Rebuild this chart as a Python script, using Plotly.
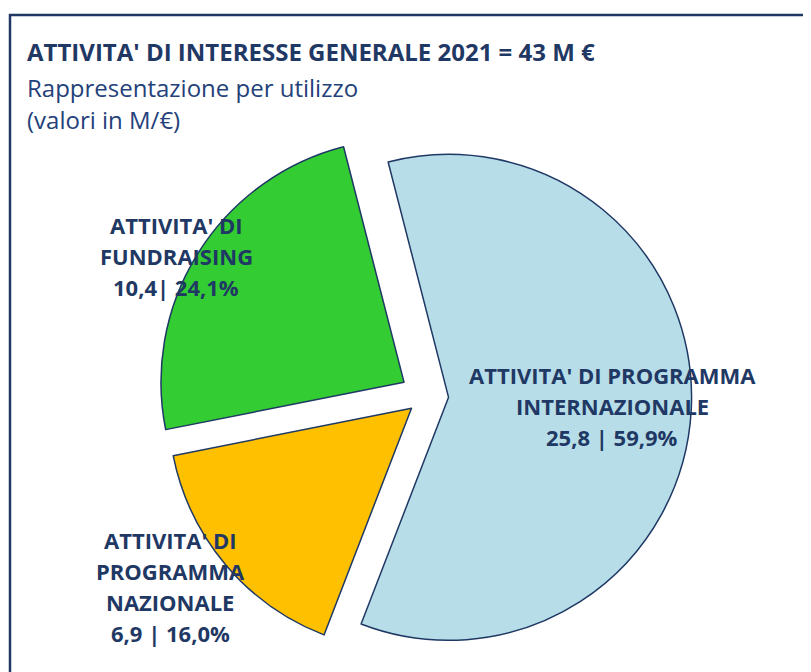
import plotly.graph_objects as go

# browser body margin is 8px; figure sized to fit inside the 811x672 window
OFF = 8
W, H = 811 - OFF, 672 - OFF

# ---- data ----
labels = ["ATTIVITA' DI PROGRAMMA INTERNAZIONALE", "ATTIVITA' DI PROGRAMMA NAZIONALE", "ATTIVITA' DI FUNDRAISING"]
label_lines = [["ATTIVITA' DI PROGRAMMA", "INTERNAZIONALE"],
               ["ATTIVITA' DI", "PROGRAMMA", "NAZIONALE"],
               ["ATTIVITA' DI", "FUNDRAISING"]]
values = [25.8, 6.9, 10.4]
separators = [" | ", " | ", "| "]
colors = ["#b7dde8", "#ffc000", "#33cc33"]
pulls = [0.093, 0.078, 0.107]

title = "ATTIVITA' DI INTERESSE GENERALE 2021 = 43 M €"
subtitle1 = "Rappresentazione per utilizzo"
subtitle2 = "(valori in M/€)"

NAVY = "#1f3864"

def fmt(v, d=1):
    return f"{v:.{d}f}".replace(".", ",")

total = sum(values)

# screen -> paper coordinate helpers
def px(x):
    return (x - OFF) / W

def py(y):
    return 1 - (y - OFF) / H

# pie geometry (screen px): center (426,396), radius ~243
cx, cy, r = 426, 396, 243
half = r * (1 + max(pulls))
dom_x = [px(cx - half), px(cx + half)]
dom_y = [py(cy + half), py(cy - half)]

fig = go.Figure(go.Pie(
    labels=labels, values=values, sort=False, direction="clockwise",
    rotation=-14.4, pull=pulls,
    marker=dict(colors=colors, line=dict(color=NAVY, width=1.5)),
    textinfo="none", hoverinfo="label+value+percent",
    domain=dict(x=dom_x, y=dom_y), showlegend=False,
))

annotations = []
label_pos = [(612, 375), (170, 540), (176, 225)]
gap = 31
for i, (lx, ly) in enumerate(label_pos):
    lines = label_lines[i] + [fmt(values[i]) + separators[i] + fmt(values[i] / total * 100) + "%"]
    for j, t in enumerate(lines):
        annotations.append(dict(
            x=px(lx), y=py(ly + j * gap), xref="paper", yref="paper",
            text=f"<b>{t}</b>", showarrow=False, xanchor="center", yanchor="middle",
            font=dict(family="Open Sans", size=22, color=NAVY),
        ))

annotations.append(dict(x=px(25), y=py(51), xref="paper", yref="paper", text=f"<b>{title}</b>",
                        showarrow=False, xanchor="left", yanchor="middle",
                        font=dict(family="Open Sans", size=24, color=NAVY)))
annotations.append(dict(x=px(25), y=py(87), xref="paper", yref="paper", text=subtitle1,
                        showarrow=False, xanchor="left", yanchor="middle",
                        font=dict(family="Open Sans", size=24, color="#24417a")))
annotations.append(dict(x=px(25), y=py(120), xref="paper", yref="paper", text=subtitle2,
                        showarrow=False, xanchor="left", yanchor="middle",
                        font=dict(family="Open Sans", size=24, color="#24417a")))

shapes = [dict(type="rect", xref="paper", yref="paper", x0=px(10), x1=px(840), y0=py(700), y1=py(15),
               line=dict(color=NAVY, width=2.5), fillcolor="rgba(0,0,0,0)")]

fig.update_layout(width=W, height=H, margin=dict(l=0, r=0, t=0, b=0),
                  paper_bgcolor="white", plot_bgcolor="white",
                  annotations=annotations, shapes=shapes)

fig.write_html("out.html")
